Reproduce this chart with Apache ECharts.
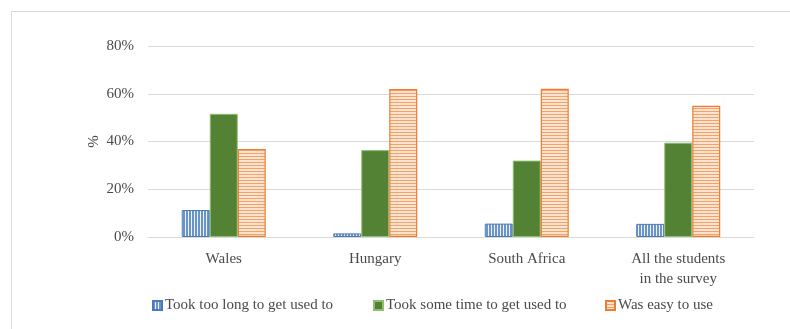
<!DOCTYPE html>
<html>
<head>
<meta charset="utf-8">
<script src="https://cdn.jsdelivr.net/npm/echarts@6/dist/echarts.min.js"></script>
<style>
html,body{margin:0;padding:0;background:#fff;}
#chart{width:790px;height:329px;}
</style>
</head>
<body>
<div id="chart"></div>
<script>
var categories = ['Wales', 'Hungary', 'South Africa', 'All the students\nin the survey'];
var seriesNames = ['Took too long to get used to', 'Took some time to get used to', 'Was easy to use'];
var tooLong = [11.3, 1.5, 5.6, 5.5];
var someTime = [51.6, 36.4, 32.0, 39.5];
var easy = [36.9, 62.0, 62.1, 55.0];
var yTicks = [0, 20, 40, 60, 80];

function makePattern(w, h, draw) {
  var c = document.createElement('canvas');
  c.width = w; c.height = h;
  var ctx = c.getContext('2d');
  draw(ctx);
  return { image: c, repeat: 'repeat' };
}
var bluePattern = makePattern(3, 3, function (ctx) {
  ctx.fillStyle = '#eef3fa'; ctx.fillRect(0, 0, 3, 3);
  ctx.fillStyle = '#6a94c9'; ctx.fillRect(0, 0, 2, 3);
});
var orangePattern = makePattern(3, 3, function (ctx) {
  ctx.fillStyle = '#fbe3cf'; ctx.fillRect(0, 0, 3, 3);
  ctx.fillStyle = '#f0a46c'; ctx.fillRect(0, 0, 3, 1);
});

var font = 'Liberation Serif';
var textColor = '#4a4a4a';
var chart = echarts.init(document.getElementById('chart'));
function legend(name, left) {
  return {
    data: [name], left: left, top: 293, itemWidth: 9, itemHeight: 9, itemGap: 0,
    icon: 'rect', textStyle: { fontFamily: font, fontSize: 15, color: textColor, padding: [0, 0, 0, -2] }
  };
}
chart.setOption({
  animation: false,
  backgroundColor: '#fff',
  graphic: [{
    type: 'rect', shape: { x: 11.5, y: 11.5, width: 820, height: 400 },
    style: { fill: 'none', stroke: '#d9d9d9', lineWidth: 1 }, silent: true
  }],
  legend: [legend(seriesNames[0], 147), legend(seriesNames[1], 368), legend(seriesNames[2], 600)],
  grid: { left: 148, right: 36, top: 46, bottom: 92 },
  xAxis: {
    type: 'category', data: categories,
    axisLine: { lineStyle: { color: '#d9d9d9' } }, axisTick: { show: false },
    axisLabel: { fontFamily: font, fontSize: 15, color: textColor, margin: 12, lineHeight: 20 }
  },
  yAxis: {
    type: 'value', min: 0, max: 80, interval: 20,
    name: '%', nameLocation: 'middle', nameGap: 46, nameRotate: 90, nameMoveOverlap: false,
    nameTextStyle: { fontFamily: font, fontSize: 15, color: textColor },
    axisLabel: { fontFamily: font, fontSize: 15, color: textColor, margin: 14, formatter: '{value}%' },
    splitLine: { lineStyle: { color: '#d9d9d9' } }
  },
  series: [
    { name: seriesNames[0], type: 'bar', data: tooLong, barWidth: 28, barGap: '0%',
      itemStyle: { color: bluePattern, borderColor: '#4a7ab8', borderWidth: 1 } },
    { name: seriesNames[1], type: 'bar', data: someTime, barWidth: 28,
      itemStyle: { color: '#548235', borderColor: '#8fbf72', borderWidth: 1 } },
    { name: seriesNames[2], type: 'bar', data: easy, barWidth: 28,
      itemStyle: { color: orangePattern, borderColor: '#ed7d31', borderWidth: 1.2 } }
  ]
});
</script>
</body>
</html>
